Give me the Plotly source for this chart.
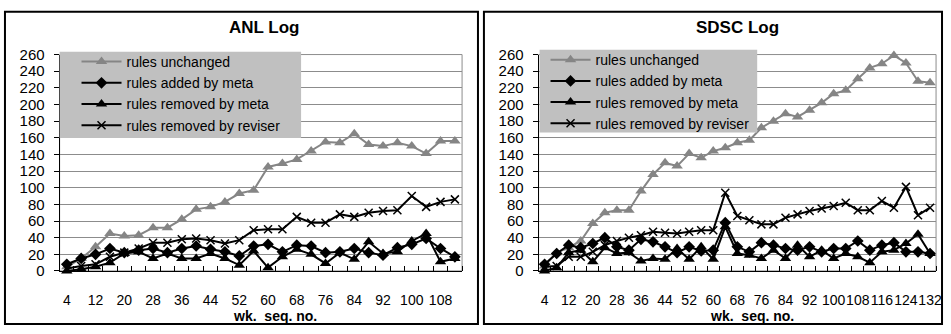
import plotly.graph_objects as go

# ---- data -------------------------------------------------------------
anl_weeks = [4, 8, 12, 16, 20, 24, 28, 32, 36, 40, 44, 48, 52, 56, 60, 64,
             68, 72, 76, 80, 84, 88, 92, 96, 100, 104, 108, 112]
anl_unchanged = [5, 15, 29, 45, 42, 43, 52, 52, 62, 74, 77, 83, 93, 97, 125, 129,
                 134, 144, 155, 154, 165, 152, 150, 154, 150, 141, 156, 156]
anl_added_meta = [8, 15, 20, 27, 22, 25, 27, 22, 27, 30, 26, 23, 18, 30, 32, 23,
                  31, 30, 22, 23, 27, 22, 19, 28, 32, 39, 27, 17]
anl_removed_meta = [0, 2, 5, 10, 21, 23, 15, 21, 15, 15, 21, 15, 7, 24, 4, 17,
                    26, 20, 9, 22, 14, 35, 21, 23, 36, 45, 11, 15]
anl_removed_reviser = [3, 6, 8, 17, 22, 27, 34, 34, 38, 39, 37, 33, 37, 49, 50, 50,
                       65, 58, 58, 68, 65, 70, 72, 73, 90, 77, 83, 86]

sdsc_weeks = [4, 8, 12, 16, 20, 24, 28, 32, 36, 40, 44, 48, 52, 56, 60, 64, 68,
              72, 76, 80, 84, 88, 92, 96, 100, 104, 108, 112, 116, 120, 124, 128, 132]
sdsc_unchanged = [6, 22, 28, 36, 57, 70, 73, 73, 96, 116, 130, 126, 141, 136, 144, 148, 154,
                  157, 172, 180, 189, 185, 193, 202, 213, 217, 231, 244, 249, 259, 250, 228, 226]
sdsc_added_meta = [8, 21, 31, 28, 33, 40, 29, 25, 38, 35, 29, 22, 29, 24, 25, 58, 29,
                   23, 34, 31, 27, 25, 29, 23, 27, 27, 36, 25, 31, 34, 23, 23, 21]
sdsc_removed_meta = [0, 4, 22, 25, 11, 28, 21, 22, 12, 15, 14, 27, 14, 29, 14, 53, 21,
                     19, 15, 25, 15, 31, 17, 25, 15, 21, 17, 10, 23, 25, 33, 44, 21]
sdsc_removed_reviser = [5, 6, 17, 17, 23, 31, 36, 40, 43, 47, 46, 45, 47, 49, 49, 94, 66,
                        61, 56, 56, 64, 68, 72, 75, 78, 82, 73, 73, 84, 76, 101, 67, 76]

series_names = ["rules unchanged", "rules added by meta",
                "rules removed by meta", "rules removed by reviser"]
y_ticks = [0, 20, 40, 60, 80, 100, 120, 140, 160, 180, 200, 220, 240, 260]

# ---- page geometry (pixels) --------------------------------------------
W, H = 951, 334
FONT = "Liberation Sans, Arial, sans-serif"


def fx(px):
    return px / W


def fy(py):
    return 1 - py / H


GRAY = "#858585"
styles = [
    dict(line=dict(color=GRAY, width=2),
         marker=dict(symbol="triangle-up", size=10, color=GRAY)),
    dict(line=dict(color="black", width=2),
         marker=dict(symbol="diamond", size=9, color="black")),
    dict(line=dict(color="black", width=2),
         marker=dict(symbol="triangle-up", size=10, color="black")),
    dict(line=dict(color="black", width=2),
         marker=dict(symbol="x-thin", size=8, color="black",
                     line=dict(color="black", width=1.5))),
]

fig = go.Figure()

panels = [
    dict(weeks=anl_weeks,
         ys=[anl_unchanged, anl_added_meta, anl_removed_meta, anl_removed_reviser],
         xa="x", ya="y", legend="legend"),
    dict(weeks=sdsc_weeks,
         ys=[sdsc_unchanged, sdsc_added_meta, sdsc_removed_meta, sdsc_removed_reviser],
         xa="x2", ya="y2", legend="legend2"),
]

for p in panels:
    for name, vals, st in zip(series_names, p["ys"], styles):
        fig.add_trace(go.Scatter(
            x=p["weeks"], y=vals, name=name, mode="lines+markers",
            xaxis=p["xa"], yaxis=p["ya"], legend=p["legend"],
            line=st["line"], marker=st["marker"], cliponaxis=False))


def x_axis(weeks, domain, anchor):
    step = weeks[1] - weeks[0]
    labels = weeks[::2]
    bounds = [weeks[0] - step / 2] + [w + step / 2 for w in weeks]
    return dict(
        domain=domain, anchor=anchor,
        range=[weeks[0] - step / 2, weeks[-1] + step / 2],
        tickmode="array", tickvals=labels, ticktext=[str(v) for v in labels],
        ticks="", tickangle=0, ticklabelstandoff=16,
        tickfont=dict(family=FONT, size=14, color="black"),
        showgrid=False, zeroline=False,
        showline=True, linecolor="black", linewidth=1,
        minor=dict(tickmode="array", tickvals=bounds, ticks="inside",
                   ticklen=5, tickcolor="black", tickwidth=1, showgrid=False),
    )


def y_axis(domain, anchor):
    return dict(
        domain=domain, anchor=anchor, range=[0, 260],
        tickmode="array", tickvals=y_ticks, ticktext=[str(v) for v in y_ticks],
        ticks="outside", ticklen=5, tickcolor="black", ticklabelstandoff=6,
        tickfont=dict(family=FONT, size=15, color="black"),
        showgrid=True, gridcolor="#8c8c8c", gridwidth=1, zeroline=False,
        showline=True, linecolor="black", linewidth=1,
    )


ANL_BOX = (60, 465)
SDSC_BOX = (542, 942)
Y_TOP, Y_BOT = 48, 276

legend_common = dict(xanchor="left", yanchor="top",
                     bgcolor="rgba(0,0,0,0)", borderwidth=0, itemwidth=40,
                     font=dict(family=FONT, size=14, color="black"),
                     tracegroupgap=0, itemclick=False)

fig.update_layout(
    width=W, height=H, margin=dict(l=0, r=0, t=0, b=0),
    paper_bgcolor="white", plot_bgcolor="white",
    font=dict(family=FONT, size=14, color="black"),
    xaxis=x_axis(anl_weeks, [fx(ANL_BOX[0]), fx(ANL_BOX[1])], "y"),
    yaxis=y_axis([fy(Y_BOT), fy(Y_TOP)], "x"),
    xaxis2=x_axis(sdsc_weeks, [fx(SDSC_BOX[0]), fx(SDSC_BOX[1])], "y2"),
    yaxis2=y_axis([fy(Y_BOT), fy(Y_TOP)], "x2"),
    legend=dict(x=fx(77), y=fy(39), **legend_common),
    legend2=dict(x=fx(549), y=fy(37), **legend_common),
    showlegend=True,
)

shapes = []
# plot-area frames (grey top/right edges)
for (x0, x1) in (ANL_BOX, SDSC_BOX):
    shapes.append(dict(type="rect", xref="paper", yref="paper",
                       x0=fx(x0), x1=fx(x1), y0=fy(Y_BOT), y1=fy(Y_TOP),
                       line=dict(color="#8c8c8c", width=1), layer="below"))
# grey legend panels
shapes.append(dict(type="rect", xref="paper", yref="paper",
                   x0=fx(60), x1=fx(303), y0=fy(136), y1=fy(45),
                   fillcolor="#c0c0c0", line=dict(width=0), layer="above"))
shapes.append(dict(type="rect", xref="paper", yref="paper",
                   x0=fx(543), x1=fx(762), y0=fy(130), y1=fy(43),
                   fillcolor="#c0c0c0", line=dict(width=0), layer="above"))
# chart frames
shapes.append(dict(type="rect", xref="paper", yref="paper",
                   x0=fx(5), x1=fx(481), y0=fy(332), y1=fy(3),
                   line=dict(color="black", width=2), layer="above"))
shapes.append(dict(type="rect", xref="paper", yref="paper",
                   x0=fx(487), x1=fx(948), y0=fy(332), y1=fy(3),
                   line=dict(color="black", width=2), layer="above"))
fig.update_layout(shapes=shapes)

annotations = [
    dict(text="<b>ANL Log</b>", x=fx(266), y=fy(20)),
    dict(text="<b>SDSC Log</b>", x=fx(742), y=fy(20)),
    dict(text="<b>wk.  seq. no.</b>", x=fx(277), y=fy(323), size=14),
    dict(text="<b>wk.  seq. no.</b>", x=fx(757), y=fy(323), size=14),
]
fig.update_layout(annotations=[
    dict(text=a["text"], x=a["x"], y=a["y"], xref="paper", yref="paper",
         xanchor="center", yanchor="middle", showarrow=False,
         font=dict(family=FONT, size=a.get("size", 17), color="black"))
    for a in annotations
])

fig.write_html("out.html")
